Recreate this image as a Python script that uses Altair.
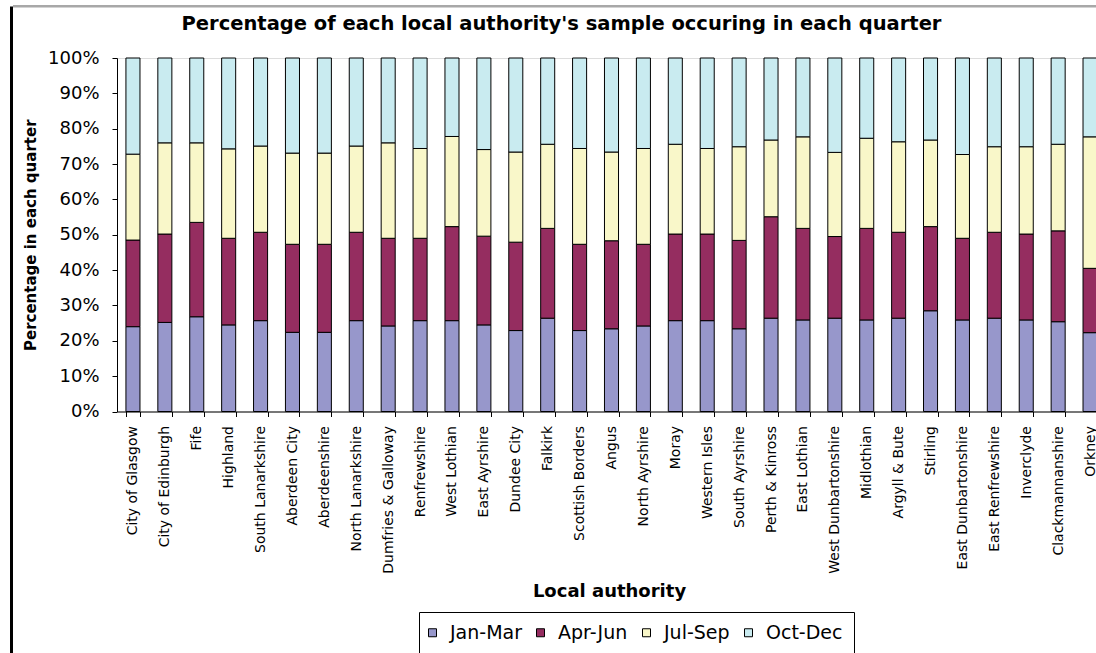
import altair as alt
import pandas as pd

# Local authorities in the order plotted
authorities = [
    "City of Glasgow", "City of Edinburgh", "Fife", "Highland", "South Lanarkshire",
    "Aberdeen City", "Aberdeenshire", "North Lanarkshire", "Dumfries & Galloway",
    "Renfrewshire", "West Lothian", "East Ayrshire", "Dundee City", "Falkirk",
    "Scottish Borders", "Angus", "North Ayrshire", "Moray", "Western Isles",
    "South Ayrshire", "Perth & Kinross", "East Lothian", "West Dunbartonshire",
    "Midlothian", "Argyll & Bute", "Stirling", "East Dunbartonshire",
    "East Renfrewshire", "Inverclyde", "Clackmannanshire", "Orkney",
]

quarters = ["Jan-Mar", "Apr-Jun", "Jul-Sep", "Oct-Dec"]

# Percentage of each authority's sample falling in each quarter
jan_mar = [24.0, 25.2, 26.8, 24.5, 25.7, 22.4, 22.4, 25.7, 24.2, 25.7, 25.7, 24.5, 22.9, 26.4,
           22.9, 23.4, 24.2, 25.7, 25.7, 23.4, 26.4, 25.9, 26.4, 25.9, 26.4, 28.5, 25.9, 26.4,
           25.9, 25.4, 22.3]
apr_jun = [24.5, 25.0, 26.7, 24.5, 25.0, 24.9, 24.9, 25.0, 24.8, 23.3, 26.6, 25.1, 25.0, 25.4,
           24.4, 24.9, 23.1, 24.5, 24.5, 25.0, 28.7, 25.9, 23.1, 25.9, 24.3, 23.8, 23.1, 24.3,
           24.3, 25.7, 18.2]
jul_sep = [24.3, 25.8, 22.5, 25.3, 24.4, 25.8, 25.8, 24.4, 27.0, 25.4, 25.5, 24.5, 25.5, 23.8,
           27.1, 25.1, 27.1, 25.4, 24.2, 26.5, 21.7, 25.9, 23.8, 25.5, 25.6, 24.5, 23.7, 24.2,
           24.7, 24.5, 37.2]
oct_dec = [27.2, 24.0, 24.0, 25.7, 24.9, 26.9, 26.9, 24.9, 24.0, 25.6, 22.2, 25.9, 26.6, 24.4,
           25.6, 26.6, 25.6, 24.4, 25.6, 25.1, 23.2, 22.3, 26.7, 22.7, 23.7, 23.2, 27.3, 25.1,
           25.1, 24.4, 22.3]

y_ticks = [0, 0.1, 0.2, 0.3, 0.4, 0.5, 0.6, 0.7, 0.8, 0.9, 1.0]
colors = ["#9797CB", "#952D60", "#F9F7C9", "#C9EBF0"]

rows = []
for series_idx, (q, vals) in enumerate(zip(quarters, [jan_mar, apr_jun, jul_sep, oct_dec])):
    for a, v in zip(authorities, vals):
        rows.append({"authority": a, "quarter": q, "qi": series_idx, "pct": v})
df = pd.DataFrame(rows)

FONT = "DejaVu Sans"

bars = alt.Chart(df).mark_bar(stroke="black", strokeWidth=1).encode(
    x=alt.X(
        "authority:N",
        sort=authorities,
        scale=alt.Scale(range=[0, 989], paddingInner=0.56, paddingOuter=0.28),
        axis=alt.Axis(
            title="Local authority",
            labelAngle=270,
            labelFont=FONT,
            labelFontSize=14,
            labelColor="black",
            labelPadding=9,
            tickBand="extent",
            tickSize=5,
            tickColor="black",
            domainColor="black",
            titleFont=FONT,
            titleFontSize=18,
            titleFontWeight="bold",
            titleColor="black",
            titleBaseline="alphabetic",
            titleX=492,
            titleY=184.5,
        ),
    ),
    y=alt.Y(
        "pct:Q",
        stack="normalize",
        scale=alt.Scale(domain=[0, 1]),
        axis=alt.Axis(
            title="Percentage in each quarter",
            values=y_ticks,
            format=".0%",
            grid=False,
            labelFont=FONT,
            labelFontSize=18,
            labelColor="black",
            labelPadding=13,
            tickSize=5,
            tickColor="black",
            domainColor="black",
            titleFont=FONT,
            titleFontSize=15,
            titleFontWeight="bold",
            titleColor="black",
            titleBaseline="alphabetic",
            titleX=-82,
            titleY=176.75,
        ),
    ),
    color=alt.Color(
        "quarter:N",
        sort=quarters,
        scale=alt.Scale(domain=quarters, range=colors),
        legend=alt.Legend(
            title=None,
            orient="none",
            legendX=302,
            legendY=554,
            direction="horizontal",
            symbolType="square",
            symbolSize=64,
            symbolStrokeColor="black",
            symbolStrokeWidth=1,
            symbolOffset=-7,
            labelFont=FONT,
            labelFontSize=19,
            labelColor="black",
            labelOffset=8,
            columnPadding=12,
            padding=11,
            strokeColor="black",
            fillColor="white",
        ),
    ),
    order=alt.Order("qi:Q", sort="ascending"),
)

# Chart-area frame: heavy left edge and thin grey top edge
edge_df = pd.DataFrame({"side": ["left", "top"]})
left_edge = alt.Chart(edge_df).transform_filter("datum.side == 'left'").mark_rect(color="black").encode(
    x=alt.value(-107), x2=alt.value(-104), y=alt.value(-51.5), y2=alt.value(600)
)
top_edge = alt.Chart(edge_df).transform_filter("datum.side == 'top'").mark_rect(color="#a8a8a8").encode(
    x=alt.value(-104), x2=alt.value(985), y=alt.value(-53), y2=alt.value(-50.5)
)

chart = alt.layer(left_edge, top_edge, bars).properties(
    width=979,
    height=353.5,
    title=alt.TitleParams(
        text="Percentage of each local authority's sample occuring in each quarter",
        font=FONT,
        fontSize=19.5,
        fontWeight="bold",
        color="black",
        anchor="middle",
        frame="group",
        baseline="alphabetic",
        offset=0,
        dx=-45,
        dy=44.5,
    ),
    autosize=alt.AutoSizeParams(type="none"),
    padding={"left": 117, "top": 58, "right": 0, "bottom": 241.5},
).configure_view(stroke=None).configure(background="white")

chart.save("out.html", embed_options={"renderer": "svg", "actions": False})
